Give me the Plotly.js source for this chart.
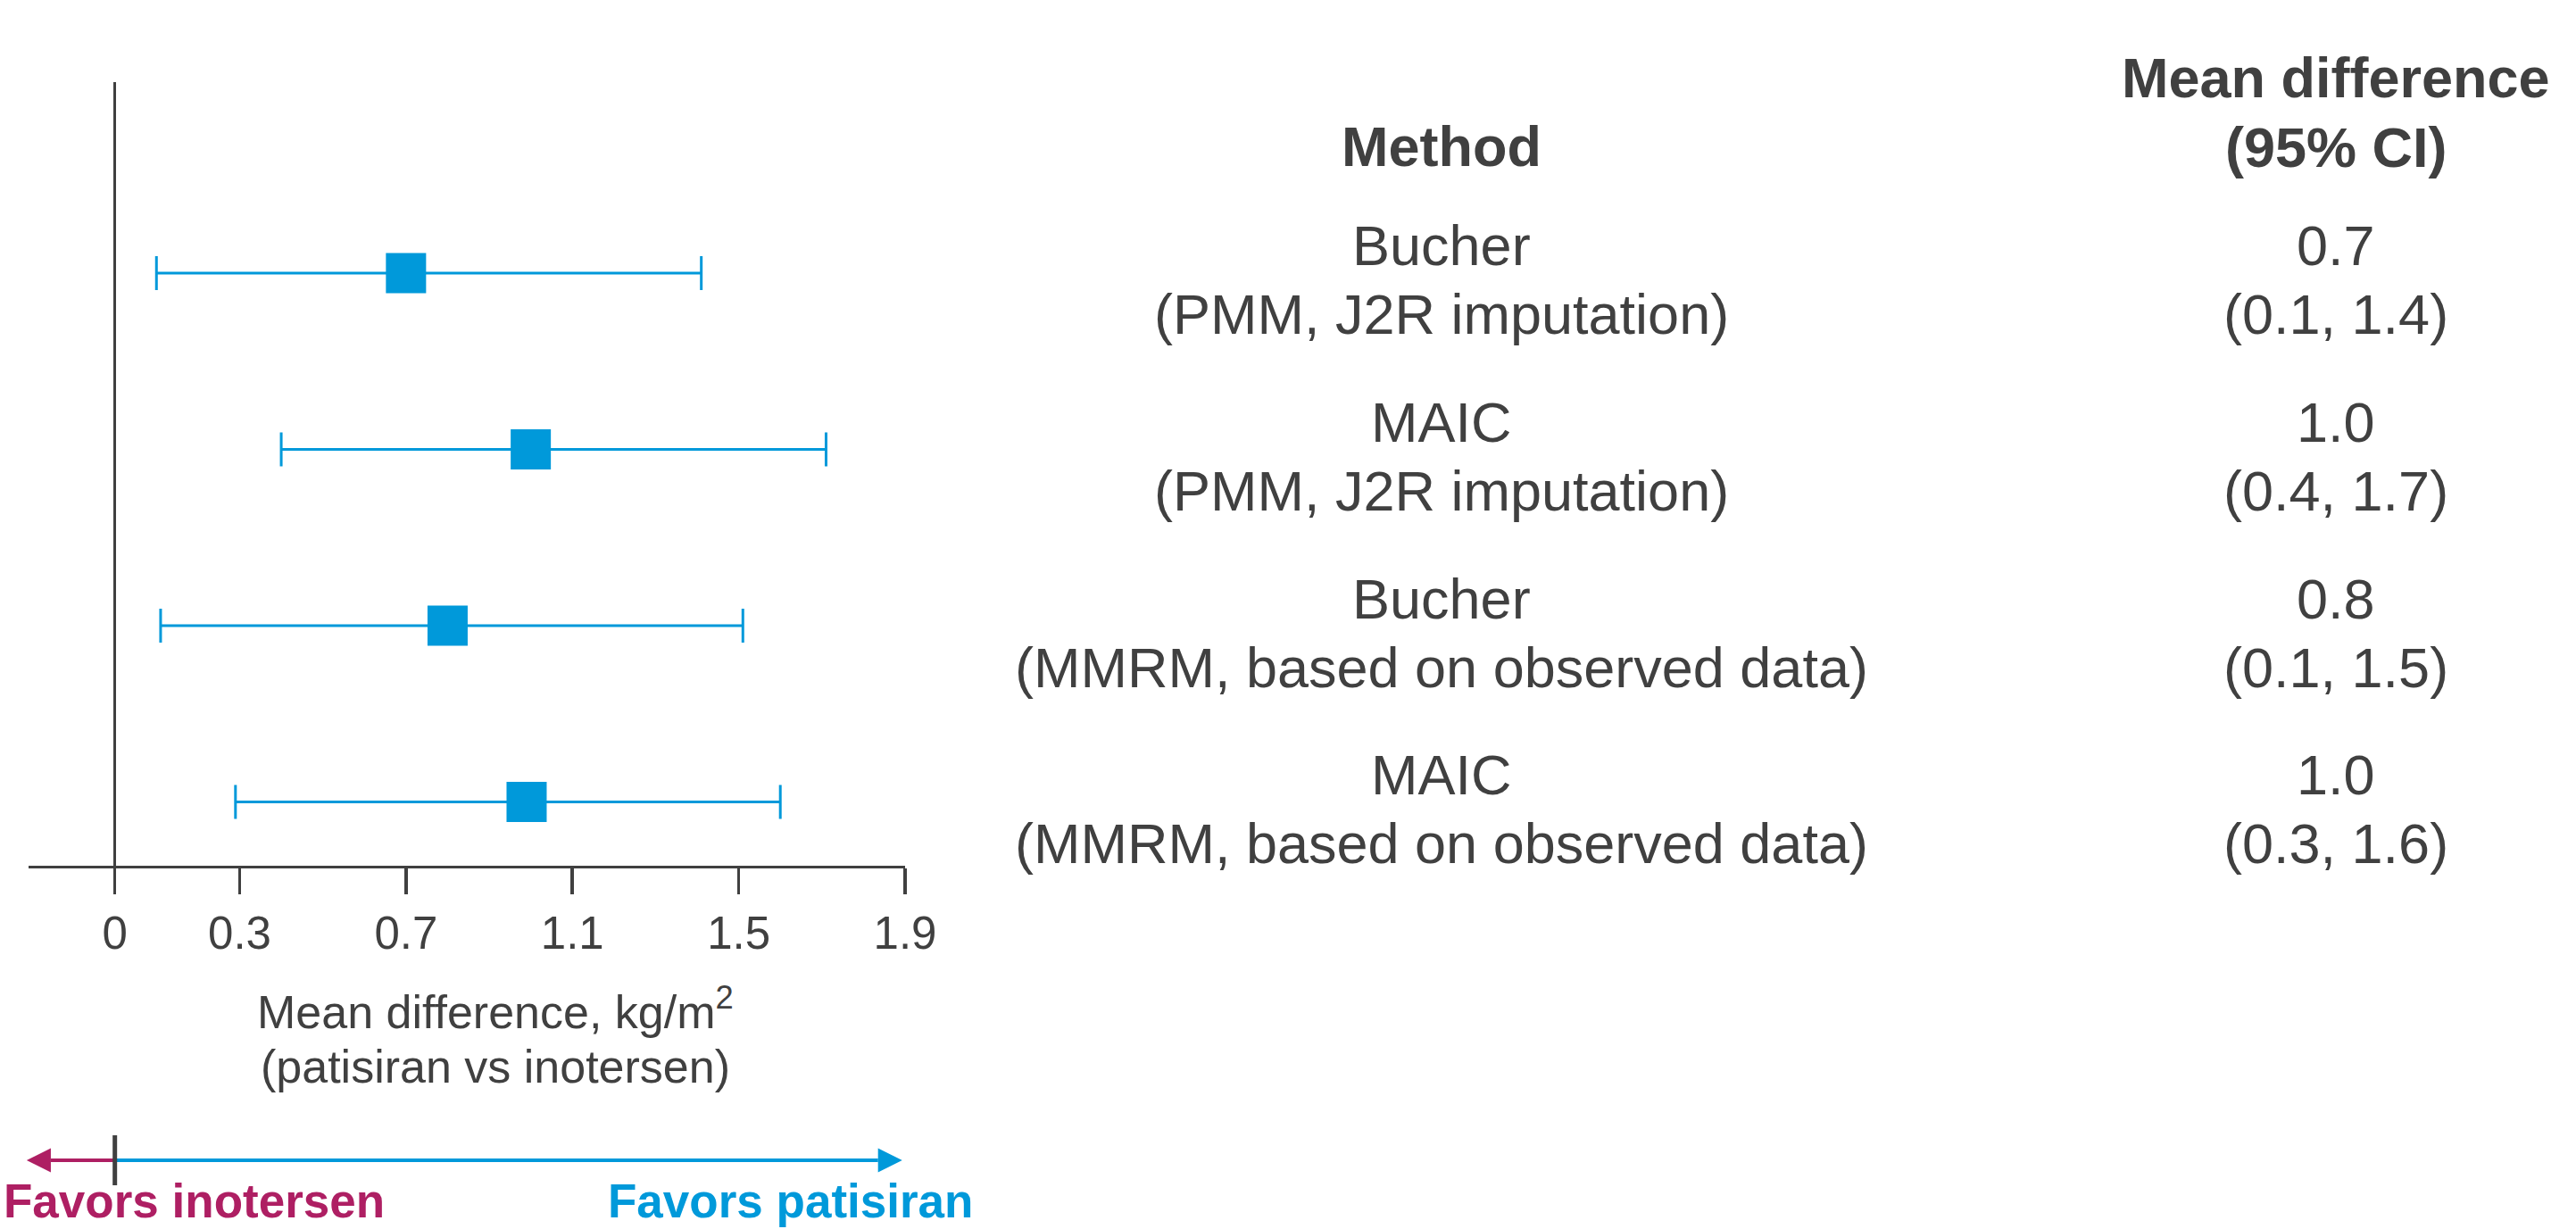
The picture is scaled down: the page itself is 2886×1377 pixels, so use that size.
<!DOCTYPE html>
<html>
<head>
<meta charset="utf-8">
<script src="https://cdn.plot.ly/plotly-3.0.1.min.js"></script>
<style>html,body{margin:0;padding:0;background:#fff;}#chart{width:2886px;height:1377px;}</style>
</head>
<body>
<div id="chart"></div>
<script>
// ---- data ----
const methods = ['Bucher', 'MAIC', 'Bucher', 'MAIC'];
const models = ['(PMM, J2R imputation)', '(PMM, J2R imputation)', '(MMRM, based on observed data)', '(MMRM, based on observed data)'];
const meanDiff = [0.70, 1.00, 0.80, 0.99];
const ciLow = [0.10, 0.40, 0.11, 0.29];
const ciHigh = [1.41, 1.71, 1.51, 1.60];
const meanLabels = ['0.7', '1.0', '0.8', '1.0'];
const ciLabels = ['(0.1, 1.4)', '(0.4, 1.7)', '(0.1, 1.5)', '(0.3, 1.6)'];
const rowPos = [4, 3, 2, 1];
const tickVals = [0, 0.3, 0.7, 1.1, 1.5, 1.9];
const tickText = ['0', '0.3', '0.7', '1.1', '1.5', '1.9'];

// ---- style / geometry ----
const W = 2886, H = 1377;
const L = 32, R = 1014, T = 92, B = 970;
const xRange = [-0.2075, 1.9];
const yRange = [0.638, 5.0835];
const BLUE = '#0099DA', MAGENTA = '#AE1F63', GRAY = '#404040';
const FONT = 'Liberation Sans, Arial, Helvetica, sans-serif';
const xp = v => (v - xRange[0]) / (xRange[1] - xRange[0]);   // data x -> paper
const yp = pix => (B - pix) / (B - T);                        // pixel y -> paper
const pxp = pix => (pix - L) / (R - L);                       // pixel x -> paper

const trace = {
  type: 'scatter', mode: 'markers',
  x: meanDiff, y: rowPos,
  marker: {symbol: 'square', size: 45, color: BLUE},
  error_x: {
    type: 'data', symmetric: false,
    array: ciHigh.map((h, i) => h - meanDiff[i]),
    arrayminus: ciLow.map((l, i) => meanDiff[i] - l),
    color: BLUE, thickness: 3, width: 19
  },
  hoverinfo: 'skip', showlegend: false
};

const annotations = [];
const txt = (text, x, xref, y, yref, size, color, bold, extra) => Object.assign({
  text: bold ? '<b>' + text + '</b>' : text,
  x: x, xref: xref, y: y, yref: yref,
  xanchor: 'center', yanchor: 'middle', showarrow: false,
  font: {family: FONT, size: size, color: color}
}, extra || {});

const colMethod = pxp(1615), colMean = pxp(2617);
// headers
annotations.push(txt('Method', colMethod, 'paper', yp(164), 'paper', 63, GRAY, true));
annotations.push(txt('Mean difference', colMean, 'paper', yp(86.5), 'paper', 63, GRAY, true));
annotations.push(txt('(95% CI)', colMean, 'paper', yp(164.6), 'paper', 63, GRAY, true));
// rows
rowPos.forEach((r, i) => {
  annotations.push(txt(methods[i], colMethod, 'paper', r, 'y', 63, GRAY, false, {yshift: 30.5}));
  annotations.push(txt(models[i], colMethod, 'paper', r, 'y', 63, GRAY, false, {yshift: -46.5}));
  annotations.push(txt(meanLabels[i], colMean, 'paper', r, 'y', 63, GRAY, false, {yshift: 30.5}));
  annotations.push(txt(ciLabels[i], colMean, 'paper', r, 'y', 63, GRAY, false, {yshift: -46.5}));
});
// x-axis title (two lines)
annotations.push(txt('Mean difference, kg/m<sup>2</sup>', pxp(555), 'paper', yp(1130), 'paper', 52, GRAY, false));
annotations.push(txt('(patisiran vs inotersen)', pxp(555), 'paper', yp(1195), 'paper', 52, GRAY, false));
// favors labels (kept fully inside the picture)
annotations.push(txt('Favors inotersen', pxp(2), 'paper', yp(1345), 'paper', 53, MAGENTA, true, {xanchor: 'left'}));
annotations.push(txt('Favors patisiran', pxp(885), 'paper', yp(1345), 'paper', 53, BLUE, true));

const arrowY = yp(1300), headH = 13.5 / (B - T);
const shapes = [
  // blue line from 0 to arrow base
  {type: 'line', xref: 'paper', yref: 'paper', x0: xp(0), x1: xp(1.835), y0: arrowY, y1: arrowY, line: {color: BLUE, width: 4}},
  {type: 'path', xref: 'paper', yref: 'paper', fillcolor: BLUE, line: {width: 0},
   path: `M ${xp(1.835)} ${arrowY + headH} L ${xp(1.893)} ${arrowY} L ${xp(1.835)} ${arrowY - headH} Z`},
  // magenta line
  {type: 'line', xref: 'paper', yref: 'paper', x0: xp(-0.154), x1: xp(0), y0: arrowY, y1: arrowY, line: {color: MAGENTA, width: 4}},
  {type: 'path', xref: 'paper', yref: 'paper', fillcolor: MAGENTA, line: {width: 0},
   path: `M ${xp(-0.154)} ${arrowY + headH} L ${xp(-0.212)} ${arrowY} L ${xp(-0.154)} ${arrowY - headH} Z`},
  // black divider tick at 0
  {type: 'line', xref: 'paper', yref: 'paper', x0: xp(0), x1: xp(0), y0: yp(1272), y1: yp(1328), line: {color: GRAY, width: 5}}
];

const layout = {
  width: W, height: H,
  margin: {l: L, r: W - R, t: T, b: H - B, pad: 0},
  paper_bgcolor: '#ffffff', plot_bgcolor: '#ffffff',
  font: {family: FONT, color: GRAY},
  showlegend: false,
  xaxis: {
    range: xRange, showgrid: false,
    zeroline: true, zerolinecolor: GRAY, zerolinewidth: 3,
    showline: true, linecolor: GRAY, linewidth: 3,
    ticks: 'outside', ticklen: 29, tickwidth: 3.5, tickcolor: GRAY,
    tickmode: 'array', tickvals: tickVals, ticktext: tickText,
    tickfont: {family: FONT, size: 51, color: GRAY},
    fixedrange: true
  },
  yaxis: {
    range: yRange, showgrid: false, zeroline: false, showline: false,
    showticklabels: false, ticks: '', fixedrange: true
  },
  annotations: annotations,
  shapes: shapes
};

Plotly.newPlot('chart', [trace], layout, {staticPlot: true, displayModeBar: false});
</script>
</body>
</html>
